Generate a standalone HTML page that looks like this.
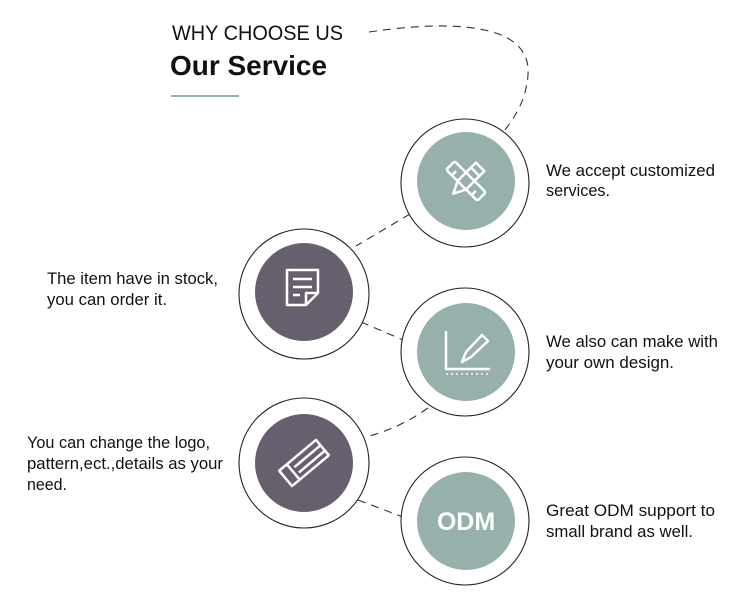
<!DOCTYPE html>
<html><head><meta charset="utf-8"><style>
html,body{margin:0;padding:0;background:#fff;width:750px;height:600px;overflow:hidden}
svg{display:block}
text{font-family:"Liberation Sans",sans-serif;fill:#111}
.t{font-size:17px}
</style></head><body>
<svg width="750" height="600" viewBox="0 0 750 600">
<text x="172" y="40" font-size="21" textLength="171" lengthAdjust="spacingAndGlyphs">WHY CHOOSE US</text>
<text x="170" y="75" font-size="28" font-weight="bold" textLength="157" lengthAdjust="spacingAndGlyphs">Our Service</text>
<line x1="171" y1="96" x2="239" y2="96" stroke="#97b0ac" stroke-width="2"/>
<g fill="none" stroke="#333" stroke-width="1.1" stroke-dasharray="8,6">
<path d="M369,32 C450,20 532,22 528,75 C526,100 516,115 505,130"/>
<path d="M410,214 L356,246"/>
<path d="M361,322 L403,340"/>
<path d="M428,408 Q400,428 366,437"/>
<path d="M358,500 L403,517"/>
</g>
<g fill="#fff" stroke="#222" stroke-width="1.1">
<circle cx="465" cy="183" r="64"/>
<circle cx="304" cy="294" r="65"/>
<circle cx="465" cy="352" r="64"/>
<circle cx="304" cy="463" r="65"/>
<circle cx="465" cy="521" r="64"/>
</g>
<circle cx="466" cy="181" r="49" fill="#97b0ac"/>
<circle cx="304" cy="292" r="49" fill="#675f6d"/>
<circle cx="466" cy="352" r="49" fill="#97b0ac"/>
<circle cx="304" cy="463" r="49" fill="#675f6d"/>
<circle cx="466" cy="521" r="49" fill="#97b0ac"/>
<g fill="none" stroke="#fff" stroke-width="2.5" stroke-linejoin="round">
<g transform="translate(466,181) rotate(-45)">
<rect x="-6" y="-22" width="12" height="44" rx="2"/>
<line x1="-6" y1="-14" x2="0" y2="-14"/><line x1="-6" y1="14" x2="0" y2="14"/>
</g>
<g transform="translate(466,181) rotate(45)">
<path d="M-6,-20 h12 v26 l-6,12 l-6,-12 z"/><line x1="-6" y1="-13" x2="6" y2="-13"/>
</g>
<path d="M294,305 h-7 v-35 h31 v23 l-12,12 z M306,305 v-12 h12"/>
<line x1="293" y1="279" x2="312" y2="279"/><line x1="293" y1="287" x2="312" y2="287"/><line x1="293" y1="295" x2="300" y2="295"/>
<path d="M446,331 v38 h44"/>
<path d="M446,374 h44" stroke-width="1.5" stroke-dasharray="2,3"/>
<path d="M462,362 l4,-10 l16,-17 l6,6 l-17,16 z"/>
<g transform="translate(304,463) rotate(-40)">
<rect x="-24" y="-10" width="48" height="20"/>
<line x1="-14" y1="-10" x2="-14" y2="10"/><line x1="-10" y1="-3" x2="24" y2="-3"/><line x1="-10" y1="4" x2="24" y2="4"/>
</g>
</g>
<text x="466" y="530" font-size="25" font-weight="bold" text-anchor="middle" style="fill:#fff">ODM</text>
<text class="t" x="546" y="176" textLength="169" lengthAdjust="spacingAndGlyphs">We accept customized</text>
<text class="t" x="546" y="196" textLength="64" lengthAdjust="spacingAndGlyphs">services.</text>
<text class="t" x="47" y="284" textLength="171" lengthAdjust="spacingAndGlyphs">The item have in stock,</text>
<text class="t" x="47" y="305" textLength="120" lengthAdjust="spacingAndGlyphs">you can order it.</text>
<text class="t" x="546" y="347" textLength="172" lengthAdjust="spacingAndGlyphs">We also can make with</text>
<text class="t" x="546" y="368" textLength="128" lengthAdjust="spacingAndGlyphs">your own design.</text>
<text class="t" x="27" y="448" textLength="183" lengthAdjust="spacingAndGlyphs">You can change the logo,</text>
<text class="t" x="27" y="469" textLength="196" lengthAdjust="spacingAndGlyphs">pattern,ect.,details as your</text>
<text class="t" x="27" y="490" textLength="40" lengthAdjust="spacingAndGlyphs">need.</text>
<text class="t" x="546" y="516" textLength="169" lengthAdjust="spacingAndGlyphs">Great ODM support to</text>
<text class="t" x="546" y="537" textLength="147" lengthAdjust="spacingAndGlyphs">small brand as well.</text>
</svg>
</body></html>
